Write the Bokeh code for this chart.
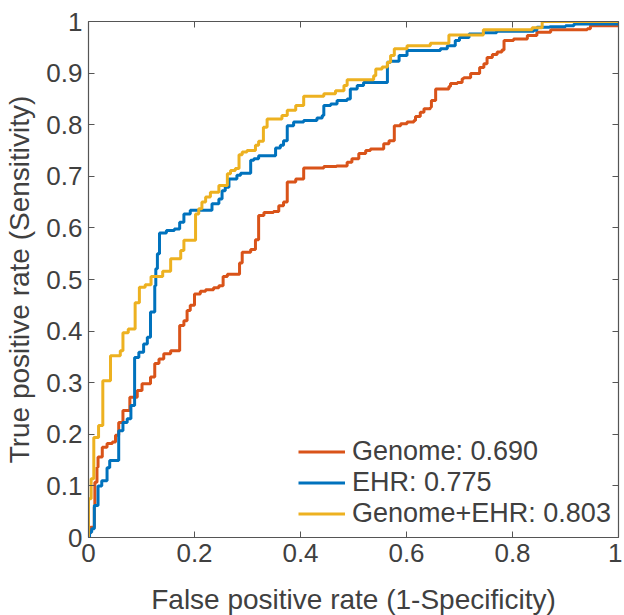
from bokeh.plotting import figure
from bokeh.models import LinearAxis, FixedTicker, Legend, LegendItem, Range1d
from bokeh.embed import file_html
from bokeh.resources import INLINE

# ---- data ----
genome_fpr = [0, 0, 0.004, 0.011, 0.012, 0.016, 0.018, 0.026, 0.035, 0.045,
              0.051, 0.057, 0.065, 0.078, 0.092, 0.101, 0.117, 0.125, 0.133, 0.142,
              0.155, 0.172, 0.180, 0.186, 0.192, 0.200, 0.211, 0.221, 0.236, 0.246,
              0.254, 0.262, 0.285, 0.290, 0.306, 0.315, 0.321, 0.331, 0.349, 0.359,
              0.368, 0.375, 0.391, 0.406, 0.444, 0.468, 0.488, 0.497, 0.510, 0.523,
              0.532, 0.557, 0.567, 0.577, 0.589, 0.601, 0.614, 0.617, 0.626, 0.633,
              0.645, 0.647, 0.655, 0.680, 0.683, 0.696, 0.705, 0.708, 0.721, 0.738,
              0.746, 0.752, 0.762, 0.771, 0.780, 0.784, 0.802, 0.828, 0.846, 0.872,
              0.941, 0.947, 1.0, 1.0]
genome_tpr = [0, 0.008, 0.020, 0.059, 0.107, 0.136, 0.156, 0.175, 0.182, 0.185,
              0.198, 0.223, 0.246, 0.272, 0.285, 0.298, 0.311, 0.337, 0.346, 0.356,
              0.362, 0.411, 0.420, 0.440, 0.450, 0.472, 0.477, 0.480, 0.484, 0.488,
              0.506, 0.510, 0.532, 0.553, 0.558, 0.577, 0.624, 0.630, 0.632, 0.643,
              0.650, 0.689, 0.695, 0.716, 0.719, 0.720, 0.727, 0.734, 0.744, 0.750,
              0.753, 0.763, 0.769, 0.798, 0.802, 0.805, 0.808, 0.816, 0.824, 0.831,
              0.834, 0.847, 0.869, 0.874, 0.880, 0.882, 0.889, 0.891, 0.899, 0.911,
              0.918, 0.930, 0.936, 0.941, 0.945, 0.963, 0.966, 0.973, 0.979, 0.984,
              0.986, 0.992, 0.997, 1.0]

ehr_fpr = [0, 0.002, 0.006, 0.011, 0.018, 0.025, 0.035, 0.040, 0.057, 0.065,
           0.073, 0.080, 0.087, 0.095, 0.104, 0.111, 0.117, 0.125, 0.127, 0.130,
           0.134, 0.147, 0.162, 0.172, 0.180, 0.192, 0.233, 0.246, 0.252, 0.258,
           0.265, 0.280, 0.287, 0.306, 0.312, 0.321, 0.353, 0.362, 0.368, 0.375,
           0.387, 0.406, 0.431, 0.441, 0.444, 0.457, 0.469, 0.488, 0.494, 0.507,
           0.519, 0.564, 0.570, 0.586, 0.601, 0.664, 0.677, 0.692, 0.700, 0.718,
           0.745, 0.770, 0.840, 0.846, 0.870, 0.900, 0.916, 1.0, 1.0]
ehr_tpr = [0, 0.010, 0.017, 0.062, 0.100, 0.110, 0.135, 0.149, 0.207, 0.223,
           0.230, 0.256, 0.349, 0.359, 0.375, 0.388, 0.437, 0.488, 0.521, 0.550,
           0.590, 0.595, 0.598, 0.611, 0.627, 0.634, 0.647, 0.656, 0.672, 0.679,
           0.695, 0.702, 0.706, 0.731, 0.734, 0.740, 0.755, 0.760, 0.769, 0.798,
           0.805, 0.808, 0.813, 0.818, 0.837, 0.840, 0.847, 0.850, 0.869, 0.876,
           0.882, 0.921, 0.923, 0.934, 0.944, 0.947, 0.953, 0.963, 0.969, 0.976,
           0.978, 0.981, 0.983, 0.989, 0.990, 0.992, 0.995, 0.997, 1.0]

both_fpr = [0, 0, 0.005, 0.010, 0.019, 0.027, 0.0415, 0.060, 0.065, 0.075,
            0.088, 0.096, 0.107, 0.118, 0.140, 0.155, 0.174, 0.180, 0.202, 0.208,
            0.214, 0.221, 0.230, 0.246, 0.262, 0.268, 0.277, 0.284, 0.290, 0.299,
            0.315, 0.321, 0.330, 0.337, 0.365, 0.375, 0.391, 0.406, 0.444, 0.466,
            0.482, 0.488, 0.538, 0.542, 0.554, 0.564, 0.570, 0.577, 0.601, 0.645,
            0.680, 0.745, 0.837, 0.856, 1.0]
both_tpr = [0, 0.075, 0.114, 0.194, 0.217, 0.304, 0.352, 0.362, 0.397, 0.404,
            0.455, 0.485, 0.490, 0.506, 0.516, 0.540, 0.556, 0.576, 0.627, 0.637,
            0.650, 0.660, 0.669, 0.682, 0.705, 0.711, 0.715, 0.742, 0.747, 0.750,
            0.760, 0.768, 0.795, 0.811, 0.818, 0.828, 0.837, 0.855, 0.860, 0.866,
            0.876, 0.887, 0.895, 0.908, 0.912, 0.921, 0.934, 0.947, 0.953, 0.958,
            0.974, 0.984, 0.988, 1.0, 1.0]

series_labels = ["Genome: 0.690", "EHR: 0.775", "Genome+EHR: 0.803"]
series_colors = ["#D95319", "#0072BD", "#EDB120"]

x_ticks = [0, 0.2, 0.4, 0.6, 0.8, 1]
x_tick_labels = ["0", "0.2", "0.4", "0.6", "0.8", "1"]
y_ticks = [0, 0.1, 0.2, 0.3, 0.4, 0.5, 0.6, 0.7, 0.8, 0.9, 1]
y_tick_labels = ["0", "0.1", "0.2", "0.3", "0.4", "0.5", "0.6", "0.7", "0.8", "0.9", "1"]

x_title = "False positive rate (1-Specificity)"
y_title = "True positive rate (Sensitivity)"

FONT = "Liberation Sans"
AX = "#555555"
TXT = "#404040"

p = figure(frame_width=530, frame_height=516,
           x_range=Range1d(0, 1), y_range=Range1d(0, 1),
           output_backend="svg", toolbar_location=None,
           min_border_left=88, min_border_top=21, min_border_right=4, min_border_bottom=70)
p.outline_line_color = None
p.xgrid.grid_line_color = None
p.ygrid.grid_line_color = None

renderers = []
for fx, fy, col in [(genome_fpr, genome_tpr, series_colors[0]),
                    (ehr_fpr, ehr_tpr, series_colors[1]),
                    (both_fpr, both_tpr, series_colors[2])]:
    r = p.step(fx, fy, mode="after", line_width=3, line_color=col)
    renderers.append(r)

def style_axis(ax, ticks, labels, show_labels=True):
    ax.ticker = FixedTicker(ticks=ticks)
    ax.major_tick_in = 6
    ax.major_tick_out = 0
    ax.minor_tick_line_color = None
    ax.axis_line_color = AX
    ax.axis_line_width = 1.2
    ax.major_tick_line_color = AX
    ax.major_label_text_font = FONT
    if show_labels:
        ax.major_label_overrides = {t: l for t, l in zip(ticks, labels)}
        ax.major_label_text_color = TXT
        ax.major_label_text_font_size = "26px"
    else:
        ax.major_label_text_color = None
        ax.major_label_text_font_size = "1px"
        ax.major_label_standoff = 0

xa = p.xaxis[0]
ya = p.yaxis[0]
style_axis(xa, x_ticks, x_tick_labels)
style_axis(ya, y_ticks, y_tick_labels)
xa.major_label_standoff = 6
ya.major_label_standoff = 6
xa.axis_label = x_title
ya.axis_label = y_title
for ax in (xa, ya):
    ax.axis_label_text_font = FONT
    ax.axis_label_text_font_size = "28px"
    ax.axis_label_text_font_style = "normal"
    ax.axis_label_text_color = TXT
xa.axis_label_standoff = 19
ya.axis_label_standoff = 8

top_ax = LinearAxis()
right_ax = LinearAxis()
style_axis(top_ax, x_ticks, x_tick_labels, show_labels=False)
style_axis(right_ax, y_ticks, y_tick_labels, show_labels=False)
p.add_layout(top_ax, "above")
p.add_layout(right_ax, "right")

legend = Legend(items=[LegendItem(label=lab, renderers=[r]) for lab, r in zip(series_labels, renderers)],
                location=(210, 8))
legend.border_line_color = None
legend.background_fill_alpha = 0
legend.label_text_font = FONT
legend.label_text_font_size = "27px"
legend.label_text_color = TXT
legend.glyph_width = 47
legend.glyph_height = 31
legend.label_height = 31
legend.label_standoff = 7
legend.spacing = 0
legend.padding = 0
legend.margin = 0
p.add_layout(legend)

open("out.html", "w").write(file_html(p, INLINE))
